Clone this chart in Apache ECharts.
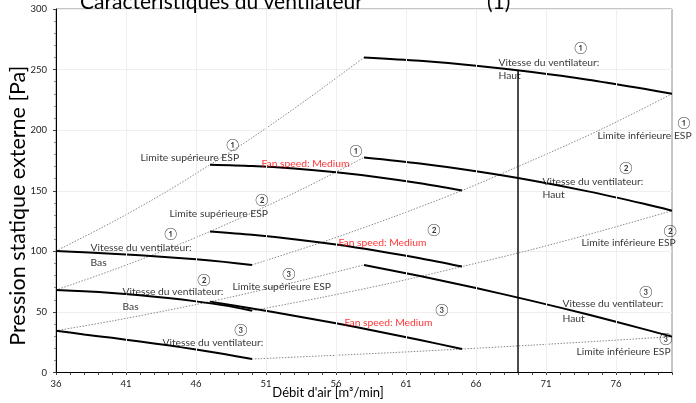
<!DOCTYPE html>
<html>
<head>
<meta charset="utf-8">
<script src="https://cdn.jsdelivr.net/npm/echarts@6/dist/echarts.min.js"></script>
<style>html,body{margin:0;padding:0;background:#fff}#c{width:696px;height:403px}</style>
</head>
<body>
<div id="c"></div>
<script>
// ---- data ----
const xTickLabels = [36, 41, 46, 51, 56, 61, 66, 71, 76];
const yTickLabels = [0, 50, 100, 150, 200, 250, 300];

// fan curves (airflow m3/min, pressure Pa)
const lowCurve1  = [[36,100.3],[38,99.3],[40,98.1],[42,96.8],[44,95.2],[46,93.4],[48,91.3],[50,88.8]];
const lowCurve2  = [[36,68.1],[38,67.1],[40,65.7],[42,63.8],[44,61.5],[46,58.7],[48,55.4],[50,51]];
const lowCurve3  = [[36,34.5],[38,31.4],[40,28.6],[42,25.6],[44,22.4],[46,19],[48,15.2],[50,11.1]];
const medCurve1  = [[47,171.5],[50,170.4],[53,168.3],[56,165.2],[59,161.2],[62,156.2],[65,150.2]];
const medCurve2  = [[47,116.4],[50,113.6],[53,110],[56,105.6],[59,100.3],[62,94.3],[65,87.4]];
const medCurve3  = [[47,58.5],[50,52.9],[53,46.9],[56,40.6],[59,33.9],[62,26.8],[65,19.4]];
const highCurve1 = [[58,260],[62,257.2],[66,253.2],[70,248],[74,241.7],[78,234.1],[80,230]];
const highCurve2 = [[58,177.5],[62,172.5],[66,166.1],[70,158.5],[74,149.5],[78,139.2],[80,133.5]];
const highCurve3 = [[58,88.8],[62,79.6],[66,69.7],[70,59.1],[74,47.8],[78,35.8],[80,29.6]];

// ESP limit curves
const upperLimit1 = [[36,100.3],[40,124],[44,150],[47,171.5],[50,193.7],[54,226],[58,260]];
const upperLimit2 = [[36,68.1],[40,84.3],[44,102],[47,116.4],[50,131.8],[54,153.7],[58,177.5]];
const upperLimit3 = [[36,34.5],[40,42.5],[44,51.4],[47,58.5],[50,66.2],[54,77.2],[58,88.8]];
const lowerLimit1 = [[50,88.8],[55,107.5],[60,128],[65,150.2],[70,175],[75,201],[80,230]];
const lowerLimit2 = [[50,51],[55,62],[60,74],[65,87.4],[70,101.5],[75,117],[80,133.5]];
const lowerLimit3 = [[50,11.1],[55,13.7],[60,16.4],[65,19.4],[70,22.6],[75,26],[80,29.6]];

// operating point marker line
const operatingLine = [[69,0],[69,249.4]];

// annotation texts [x, y, text]
const circledNotes = [
  [48.64,187.9,'①'],[57.43,182.9,'①'],[50.71,142.4,'②'],[44.21,114.4,'①'],
  [63.0,117.7,'②'],[46.57,76.4,'②'],[52.64,81.3,'③'],[49.21,35.1,'③'],
  [63.57,51.6,'③'],[73.5,268,'①'],[80.86,206,'①'],[76.71,168.9,'②'],
  [79.86,116.8,'②'],[78.14,66.5,'③'],[79.57,27.7,'③']
];
const blackNotes = [
  [42.0,177.2,'Limite supérieure ESP'],
  [44.07,130.9,'Limite supérieure ESP'],
  [38.43,102.8,'Vitesse du ventilateur:'],[38.43,90.4,'Bas'],
  [40.71,66.5,'Vitesse du ventilateur:'],[40.71,54.1,'Bas'],
  [48.57,70.6,'Limite supérieure ESP'],
  [43.57,24.4,'Vitesse du ventilateur:'],
  [67.57,255.6,'Vitesse du ventilateur:'],[67.57,244.8,'Haut'],
  [74.64,195.3,'Limite inférieure ESP'],
  [70.71,157.3,'Vitesse du ventilateur:'],[70.71,146.6,'Haut'],
  [73.5,106.9,'Limite inférieure ESP'],
  [72.14,56.6,'Vitesse du ventilateur:'],[72.14,44.2,'Haut'],
  [73.14,16.9,'Limite inférieure ESP']
];
const redNotes = [
  [50.64,172.3,'Fan speed: Medium'],
  [56.14,106.9,'Fan speed: Medium'],
  [56.57,40.9,'Fan speed: Medium']
];

const gridX = [41, 46, 51, 56, 61, 66, 71, 76];

// ---- chart ----
const FONT = 'Lato, "Noto Sans CJK JP", sans-serif';
const chart = echarts.init(document.getElementById('c'), null, {renderer: 'canvas'});

function curve(name, data) {
  return {name, type: 'line', data, symbol: 'none', smooth: 0.3, z: 4,
    lineStyle: {color: '#000', width: 2}, silent: true};
}
function limit(name, data) {
  return {name, type: 'line', data, symbol: 'none', smooth: 0.3, z: 3,
    lineStyle: {color: '#8a8a8a', width: 1, type: [1.5, 1.5]}, silent: true};
}
function notes(name, arr, pos, color, size) {
  return {name, type: 'scatter', clip: false, silent: true, z: 6,
    symbolSize: 1, itemStyle: {color: 'rgba(0,0,0,0)'},
    data: arr.map(d => ({value: [d[0], d[1]], name: d[2]})),
    label: {show: true, position: pos, distance: 0, formatter: p => p.name,
      color, fontSize: size, fontFamily: FONT}};
}

chart.setOption({
  animation: false,
  backgroundColor: '#fff',
  title: [
    {text: 'Caractéristiques du ventilateur', left: 80, top: -8, padding: 0,
      textStyle: {fontSize: 21, fontWeight: 'normal', color: '#000', fontFamily: FONT}},
    {text: '(1)', left: 487, top: -8, padding: 0,
      textStyle: {fontSize: 21, fontWeight: 'normal', color: '#000', fontFamily: FONT}}
  ],
  grid: {left: 56, right: 24, top: 9, bottom: 30.5, show: true, borderColor: '#8c8c8c',
    borderWidth: 1, containLabel: false, outerBoundsMode: 'none'},
  xAxis: {
    type: 'value', min: 36, max: 80, interval: 1,
    name: 'Débit d\'air [m³/min]', nameLocation: 'middle', nameGap: 14, nameMoveOverlap: false,
    nameTextStyle: {fontSize: 13, color: '#000', fontFamily: FONT, padding: [0, 72, 0, 0]},
    axisLine: {show: true, onZero: false, lineStyle: {color: '#000', width: 1}},
    axisTick: {show: true, length: 2.5, lineStyle: {color: '#444'}},
    axisLabel: {customValues: xTickLabels, fontSize: 9.5, color: '#222', margin: 7, fontFamily: FONT},
    splitLine: {show: false}
  },
  yAxis: {
    type: 'value', min: 0, max: 300, interval: 50,
    name: 'Pression statique externe [Pa]', nameLocation: 'middle', nameGap: 27, nameMoveOverlap: false,
    nameTextStyle: {fontSize: 21.5, color: '#000', fontFamily: FONT, padding: [0, 30, 0, 0]},
    axisLine: {show: true, onZero: false, lineStyle: {color: '#000', width: 1}},
    axisTick: {show: true, inside: false, length: 3, lineStyle: {color: '#444'}},
    minorTick: {show: true, splitNumber: 5, length: 2, lineStyle: {color: '#888'}},
    axisLabel: {customValues: yTickLabels, fontSize: 9.5, color: '#222', margin: 9, fontFamily: FONT},
    splitLine: {show: true, lineStyle: {color: '#efefef', width: 1}}
  },
  series: [
    {type: 'line', data: [], silent: true, z: 1,
      markLine: {silent: true, symbol: 'none', label: {show: false},
        lineStyle: {color: '#efefef', width: 1, type: 'solid'},
        data: gridX.map(v => ({xAxis: v}))}},
    limit('upperLimit1', upperLimit1),
    limit('upperLimit2', upperLimit2),
    limit('upperLimit3', upperLimit3),
    limit('lowerLimit1', lowerLimit1),
    limit('lowerLimit2', lowerLimit2),
    limit('lowerLimit3', lowerLimit3),
    curve('low1', lowCurve1), curve('low2', lowCurve2), curve('low3', lowCurve3),
    curve('med1', medCurve1), curve('med2', medCurve2), curve('med3', medCurve3),
    curve('high1', highCurve1), curve('high2', highCurve2), curve('high3', highCurve3),
    {name: 'operating', type: 'line', data: operatingLine, symbol: 'none', z: 5, silent: true,
      lineStyle: {color: '#000', width: 1.4}},
    notes('circled', circledNotes, 'inside', '#000', 12),
    notes('texts', blackNotes, 'right', '#000', 10.3),
    notes('red', redNotes, 'right', '#ff0000', 10.3)
  ]
});
</script>
</body>
</html>
